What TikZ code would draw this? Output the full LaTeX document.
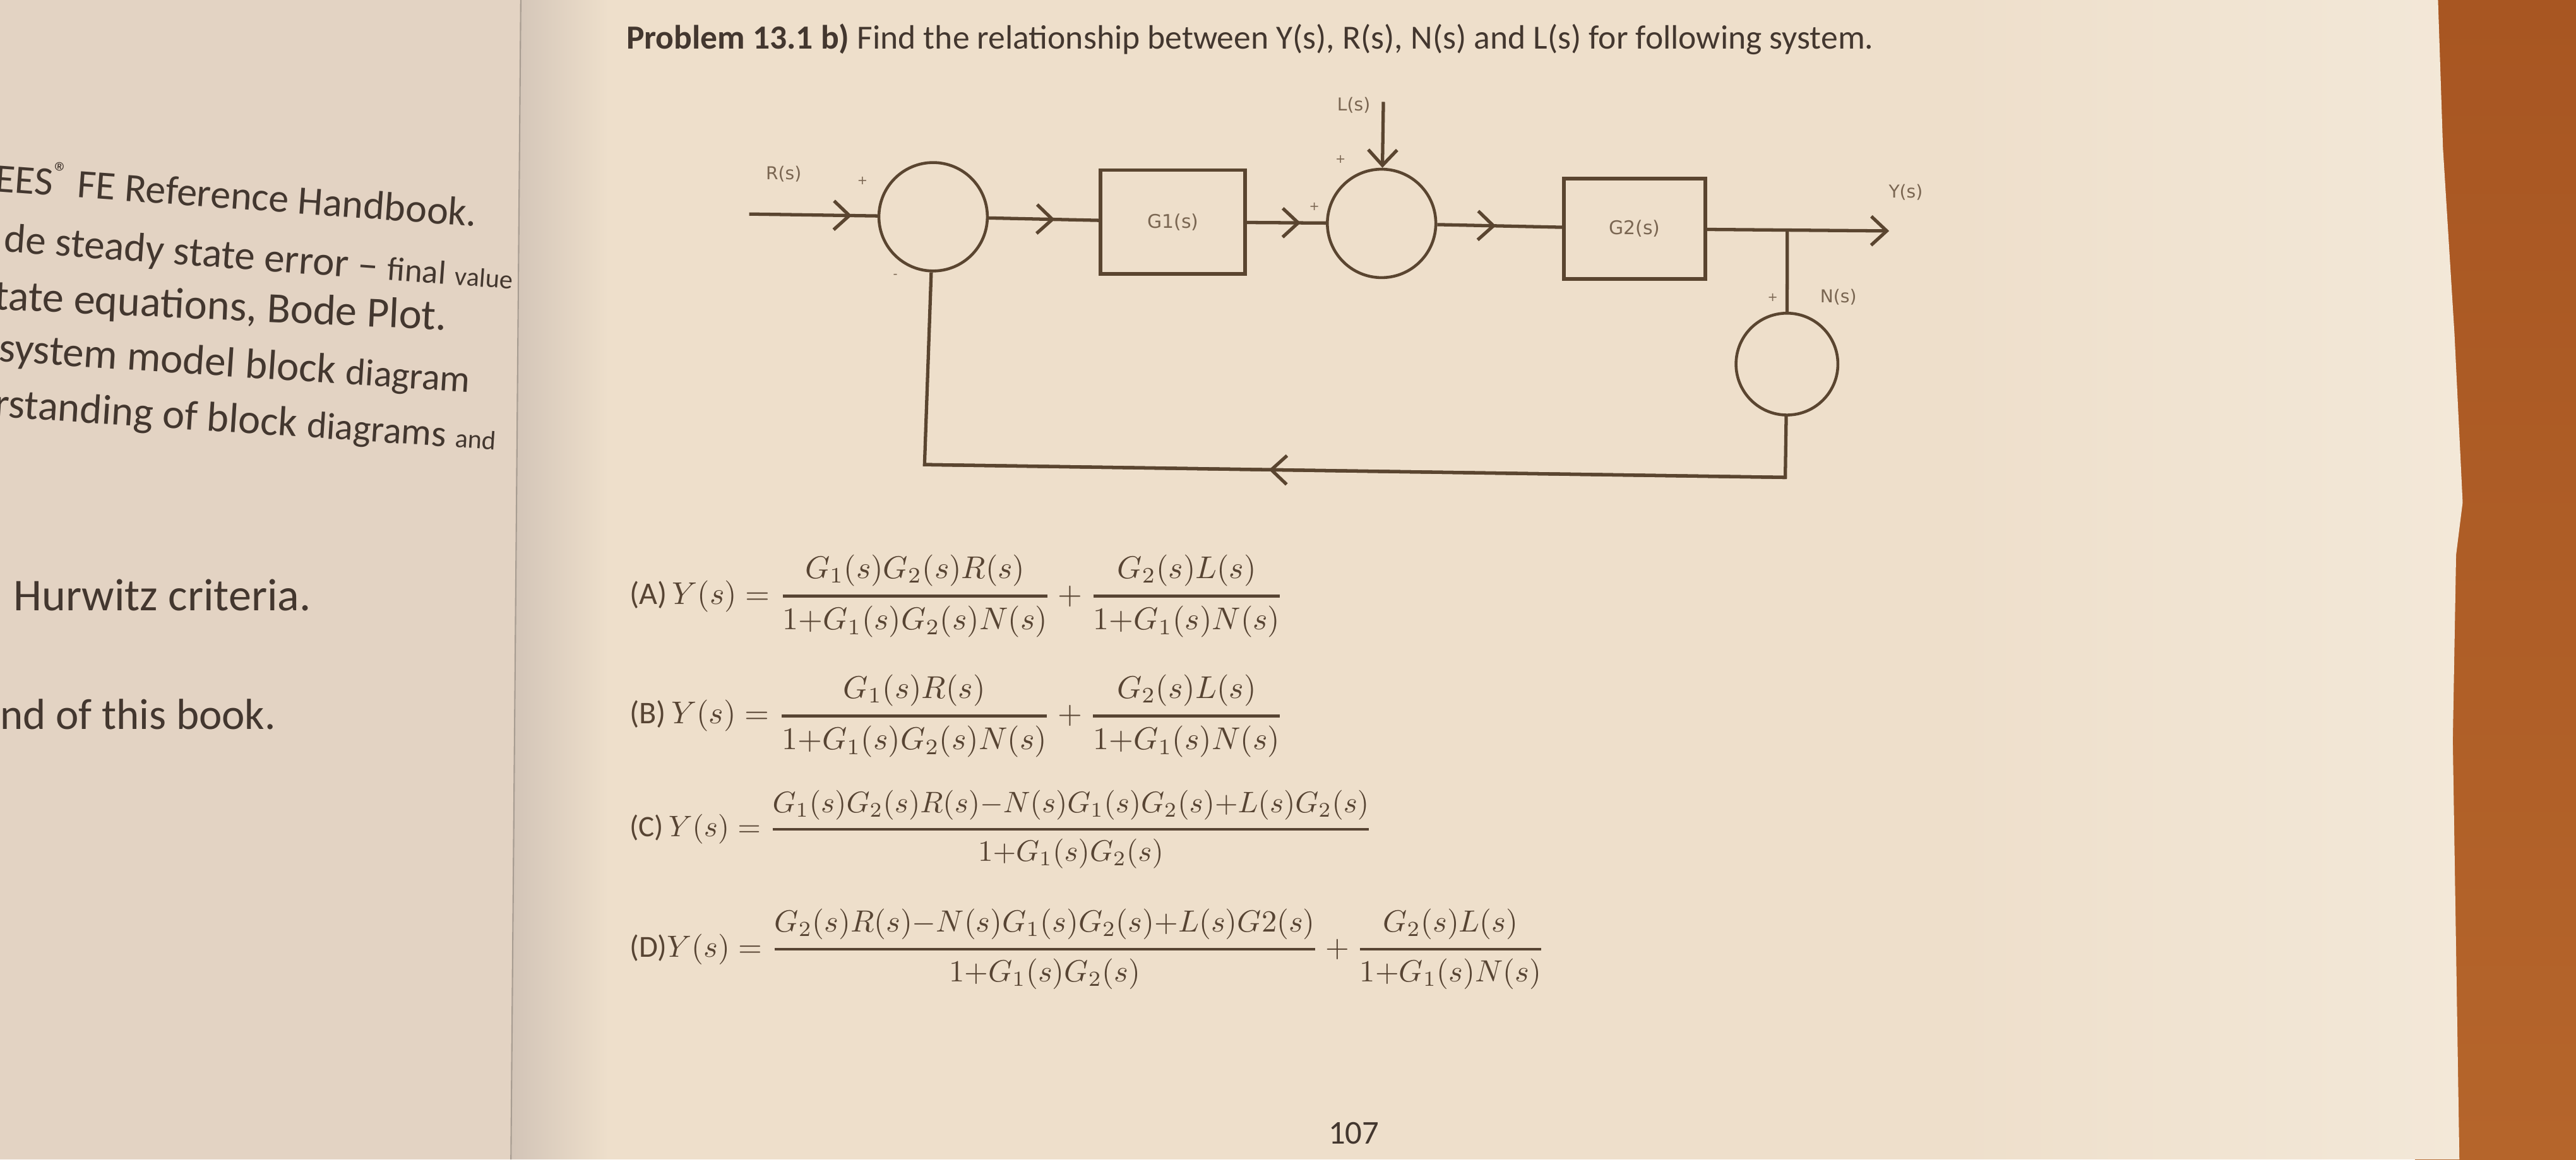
\documentclass[tikz,border=0pt]{standalone}
\usepackage{amsmath}
\usepackage{graphicx}
\usepackage{fontspec}
\setmainfont{Carlito}
\newfontfamily\diagfont{DejaVu Sans}
\usetikzlibrary{arrows.meta,decorations.markings}
\definecolor{ink}{HTML}{43372F}
\definecolor{lineink}{HTML}{5A4530}
\definecolor{lblink}{HTML}{7A6652}
\definecolor{eqink}{HTML}{574433}
\definecolor{leftpage}{HTML}{E3D3C3}
\definecolor{rightpage}{HTML}{EEDFCB}
\definecolor{rightlight}{HTML}{F3E8D8}
\definecolor{gutter}{HTML}{D2C4B7}
\definecolor{wood}{HTML}{B5652B}
\definecolor{wooddark}{HTML}{A85622}
\pgfdeclarehorizontalshading{rpage}{100bp}{color(0bp)=(gutter); color(25bp)=(gutter); color(27.5bp)=(rightpage); color(62bp)=(rightpage); color(75bp)=(rightlight); color(100bp)=(rightlight)}
\newcommand{\myfrac}[2]{\genfrac{}{}{0.9pt}{0}{#1}{#2}}
\tikzset{
  chev/.tip={Straight Barb[length=7pt,width=13pt]},
  sig/.style={draw=lineink, line width=1.5pt},
  sumnode/.style={circle, draw=lineink, line width=1.3pt, inner sep=0pt, minimum size=1.7175cm},
  blk/.style={rectangle, draw=lineink, line width=1.6pt, inner sep=0pt, font=\diagfont\fontsize{8.5}{10}\selectfont, text=lblink},
  lbl/.style={font=\diagfont\fontsize{8}{10}\selectfont, text=lblink, inner sep=0pt},
  pm/.style={font=\diagfont\fontsize{5.5}{6}\selectfont, text=lblink, inner sep=0pt},
  marr/.style={postaction={decorate}, decoration={markings, mark=at position #1 with {\arrow[lineink]{chev}}}},
  lefttxt/.style={text=ink, inner sep=0pt},
  eq/.style={text=eqink, inner sep=0pt},
}
\begin{document}
\begin{tikzpicture}[x=0.026022cm,y=-0.026022cm]
\useasboundingbox (0,0) rectangle (1568,706);
\begin{scope}
\clip (0,0) rectangle (1568,706);
% wood
\shade[top color=wooddark, bottom color=wood] (1470,0) rectangle (1568,706);
% right page
\shade[shading=rpage]
  (311,0) -- (1484,0) -- (1487,90) -- (1494,203) -- (1499,306) -- (1495,338) -- (1493,451) -- (1497,706) -- (311,706) -- cycle;
% left page
\fill[leftpage] (0,0) -- (317,0) -- (311,706) -- (0,706) -- cycle;
\draw[gutter!80!black, line width=0.6pt] (317,0) -- (311,706);

% left page text
\node[lefttxt, font=\fontsize{18.2}{20}\selectfont, anchor=base east, rotate=-4.2] (t1) at (290,138) {EES\textsuperscript{®} FE Reference Handbook.};
\node[lefttxt, font=\fontsize{18.5}{20}\selectfont, anchor=base east, rotate=-4.2] (t2) at (312,176) {de steady state error -- {\fontsize{15}{16}\selectfont final} {\fontsize{12}{13}\selectfont value}};
\node[lefttxt, font=\fontsize{19.4}{20}\selectfont, anchor=base east, rotate=-2.6] (t3) at (272,201) {tate equations, Bode Plot.};
\node[lefttxt, font=\fontsize{19}{20}\selectfont, anchor=base east, rotate=-3.8] (t4) at (286,239) {system model block {\fontsize{17}{18}\selectfont diagram}};
\node[lefttxt, font=\fontsize{18.9}{20}\selectfont, anchor=base east, rotate=-3.8] (t5) at (302,274) {rstanding of block {\fontsize{17}{18}\selectfont diagrams} {\fontsize{12}{13}\selectfont and}};
\node[lefttxt, font=\fontsize{20.5}{22}\selectfont, anchor=base west] (t6) at (8,372) {Hurwitz criteria.};
\node[lefttxt, font=\fontsize{19.6}{22}\selectfont, anchor=base west] (t7) at (0,444) {nd of this book.};
\end{scope}

% title
\node[anchor=west, text=ink, inner sep=0pt] (title) at (381,24)
  {\resizebox{562pt}{!}{\textbf{Problem 13.1 b)} Find the relationship between Y(s), R(s), N(s) and L(s) for following system.}};

% block diagram
\begin{scope}[rotate around={-0.85:(568,132)}]
  \node[sumnode] (s1) at (568,132) {};
  \node[blk, minimum width=2.29cm, minimum height=1.64cm] (g1) at (714,133) {G1(s)};
  \node[sumnode] (s2) at (841,132) {};
  \node[blk, minimum width=2.238cm, minimum height=1.587cm] (g2) at (995,133) {G2(s)};
  \node[sumnode, minimum size=1.613cm] (s3) at (1089,214) {};
  \coordinate (rin) at (456,132);
  \coordinate (yout) at (1150,132);
  \coordinate (br) at (1088,132);
  \coordinate (lin) at (841,58);
  \coordinate (c1) at (1089,283);
  \coordinate (c2) at (565,283);
\end{scope}
\draw[sig, marr=0.8] (rin) -- (s1);
\draw[sig, marr=0.6] (s1) -- (g1);
\draw[sig, marr=0.68] (g1) -- (s2);
\draw[sig, marr=0.47] (s2) -- (g2);
\draw[sig, -{chev}] (g2) -- (yout);
\draw[sig, -{chev}] (lin) -- (s2);
\draw[sig] (br) -- (s3);
\draw[sig, line join=miter] (s3) -- (c1) -- (c2) -- (s1);
\draw[sig, marr=0.6] (c1) -- (c2);

\node[lbl] (lR) at (477,106) {R(s)};
\node[pm] (p1) at (525,110) {+};
\node[pm] (m1) at (545,168) {-};
\node[lbl] (lL) at (824,64) {L(s)};
\node[pm] (p2) at (816,97) {+};
\node[pm] (p3) at (800,126) {+};
\node[lbl] (lY) at (1160,117) {Y(s)};
\node[lbl] (lN) at (1119,181) {N(s)};
\node[pm] (p4) at (1079,181) {+};

% answers
\node[eq, anchor=west] (eqA) at (383,363) {\resizebox{294.7pt}{!}{(A)\,$Y(s) = \myfrac{G_1(s)G_2(s)R(s)}{1{+}G_1(s)G_2(s)N(s)} + \myfrac{G_2(s)L(s)}{1{+}G_1(s)N(s)}$}};
\node[eq, anchor=west] (eqB) at (383,436) {\resizebox{294.7pt}{!}{(B)\,$Y(s) = \myfrac{G_1(s)R(s)}{1{+}G_1(s)G_2(s)N(s)} + \myfrac{G_2(s)L(s)}{1{+}G_1(s)N(s)}$}};
\node[eq, anchor=west] (eqC) at (383,505) {\resizebox{334.7pt}{!}{(C)\,$Y(s) = \myfrac{G_1(s)G_2(s)R(s){-}N(s)G_1(s)G_2(s){+}L(s)G_2(s)}{1{+}G_1(s)G_2(s)}$}};
\node[eq, anchor=west] (eqD) at (383,578) {\resizebox{412.4pt}{!}{(D)$Y(s) = \myfrac{G_2(s)R(s){-}N(s)G_1(s)G_2(s){+}L(s)G2(s)}{1{+}G_1(s)G_2(s)} + \myfrac{G_2(s)L(s)}{1{+}G_1(s)N(s)}$}};

\node[text=ink, inner sep=0pt, font=\fontsize{15}{18}\selectfont] (pg) at (824,690) {107};
\end{tikzpicture}
\end{document}
